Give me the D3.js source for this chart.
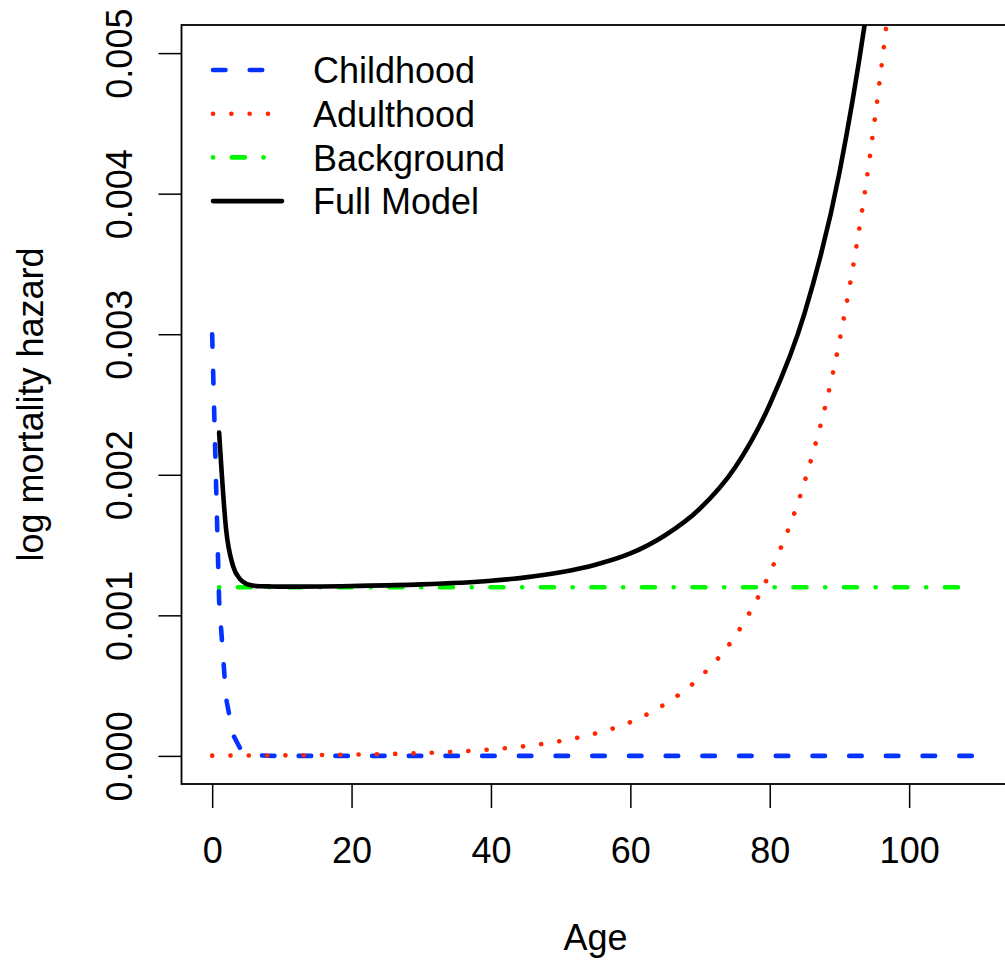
<!DOCTYPE html>
<html>
<head>
<meta charset="utf-8">
<script src="https://cdn.jsdelivr.net/npm/d3@7"></script>
<style>
  body { margin: 0; background: #fff; }
  svg { display: block; font-family: "Liberation Sans", Arial, sans-serif; }
</style>
</head>
<body>
<div class="svg"></div>
<script>
// values
var childAge = [0, 1, 2, 3, 4, 5, 6, 7, 8, 9, 10, 109];
var childVal = [0.0030, 0.0011, 0.00041, 0.00015, 0.000055, 0.00002, 0.0000074, 0.0000027, 0.000001, 0.0000004, 0.0000001, 0];

var adultAge = [0, 10, 20, 30, 40, 45, 50, 55, 60, 65, 70, 75, 80, 85, 90, 95, 100, 105, 110];
var adultVal = [0.0000016, 0.0000038, 0.0000087, 0.00002, 0.000046, 0.00007, 0.000106, 0.00016, 0.00024, 0.00037, 0.00056, 0.00085, 0.0013, 0.00195, 0.00295, 0.0045, 0.0068, 0.0103, 0.0156];

var bgAge = [1, 109];
var bgVal = [0.0012, 0.0012];

var fullAge = [1, 2, 3, 4, 5, 6, 7, 8, 10, 20, 30, 40, 45, 50, 55, 60, 65, 70, 75, 80, 85, 90, 95, 100, 105, 110];
var fullVal = [0.0023, 0.00161, 0.00135, 0.001258, 0.001222, 0.00121, 0.001207, 0.001206, 0.001204, 0.001209, 0.00122, 0.001246, 0.00127, 0.001306, 0.00136, 0.00144, 0.00157, 0.00176, 0.00205, 0.0025, 0.00315, 0.00415, 0.0057, 0.008, 0.0115, 0.0168];

var xTicks = [0, 20, 40, 60, 80, 100];
var yTicks = [0, 0.001, 0.002, 0.003, 0.004, 0.005];

var legendNames = ["Childhood", "Adulthood", "Background", "Full Model"];

var width = 1005, height = 961;
var plotLeft = 181.5, plotRight = 1009.5, plotTop = 25, plotBottom = 784;

var svg = d3.select("div.svg").append("svg")
  .attr("width", width)
  .attr("height", height);

var x = d3.scaleLinear().domain([-4.4, 114.4]).range([plotLeft, plotRight]);
var y = d3.scaleLinear().domain([-0.0002, 0.0052]).range([plotBottom, plotTop]);

svg.append("clipPath").attr("id", "plotclip")
  .append("rect")
  .attr("x", plotLeft).attr("y", plotTop)
  .attr("width", plotRight - plotLeft).attr("height", plotBottom - plotTop);

function zip(a, v) { return a.map(function(d, i) { return {age: d, val: v[i]}; }); }

var series = [
  {name: legendNames[0], data: zip(childAge, childVal), color: "#0433ff", dash: "12.5 24.2", curve: d3.curveLinear},
  {name: legendNames[1], data: zip(adultAge, adultVal), color: "#ff2600", dash: "0.1 18.2", curve: d3.curveMonotoneX},
  {name: legendNames[2], data: zip(bgAge, bgVal), color: "#00f900", dash: "0.1 18.7 13 18.7", curve: d3.curveLinear},
  {name: legendNames[3], data: zip(fullAge, fullVal), color: "#000000", dash: null, curve: d3.curveMonotoneX}
];

var g = svg.append("g").attr("clip-path", "url(#plotclip)");

series.forEach(function(s) {
  var line = d3.line()
    .x(function(d) { return x(d.age); })
    .y(function(d) { return y(d.val); })
    .curve(s.curve);
  g.append("path")
    .datum(s.data)
    .attr("fill", "none")
    .attr("stroke", s.color)
    .attr("stroke-width", 4.6)
    .attr("stroke-linecap", "round")
    .attr("stroke-linejoin", "round")
    .attr("stroke-dasharray", s.dash)
    .attr("d", line);
});

// box
svg.append("rect")
  .attr("x", plotLeft).attr("y", plotTop)
  .attr("width", plotRight - plotLeft).attr("height", plotBottom - plotTop)
  .attr("fill", "none").attr("stroke", "#000").attr("stroke-width", 1.8);

// x axis
var xAxis = svg.append("g")
  .attr("transform", "translate(0," + plotBottom + ")")
  .call(d3.axisBottom(x).tickValues(xTicks).tickSize(24).tickFormat(d3.format("d")));
xAxis.select(".domain").remove();
xAxis.selectAll("line").attr("stroke", "#000").attr("stroke-width", 1.5);
xAxis.selectAll("text")
  .attr("y", 79).attr("dy", null)
  .attr("fill", "#000")
  .style("font-size", "36px")
  .style("font-family", "Liberation Sans, Arial, sans-serif");

// y axis
var yAxis = svg.append("g")
  .attr("transform", "translate(" + plotLeft + ",0)")
  .call(d3.axisLeft(y).tickValues(yTicks).tickSize(23).tickFormat(d3.format(".3f")));
yAxis.select(".domain").remove();
yAxis.selectAll("line").attr("stroke", "#000").attr("stroke-width", 1.5);
yAxis.selectAll("text")
  .attr("x", null).attr("dy", null)
  .attr("text-anchor", "middle")
  .attr("transform", "translate(-49.5,0) rotate(-90)")
  .attr("fill", "#000")
  .style("font-size", "36px")
  .style("font-family", "Liberation Sans, Arial, sans-serif");

// axis titles
svg.append("text")
  .attr("x", (plotLeft + plotRight) / 2).attr("y", 950)
  .attr("text-anchor", "middle")
  .style("font-size", "36px")
  .text("Age");

svg.append("text")
  .attr("transform", "translate(43," + ((plotTop + plotBottom) / 2) + ") rotate(-90)")
  .attr("text-anchor", "middle")
  .style("font-size", "36px")
  .text("log mortality hazard");

// legend
var leg = svg.append("g");
series.forEach(function(s, i) {
  var ly = 70 + i * 43.7;
  leg.append("line")
    .attr("x1", 213).attr("x2", 282)
    .attr("y1", ly).attr("y2", ly)
    .attr("stroke", s.color)
    .attr("stroke-width", 4.6)
    .attr("stroke-linecap", "round")
    .attr("stroke-dasharray", s.dash);
  leg.append("text")
    .attr("x", 313).attr("y", ly + 13.3)
    .style("font-size", "36px")
    .text(s.name);
});
</script>
</body>
</html>
